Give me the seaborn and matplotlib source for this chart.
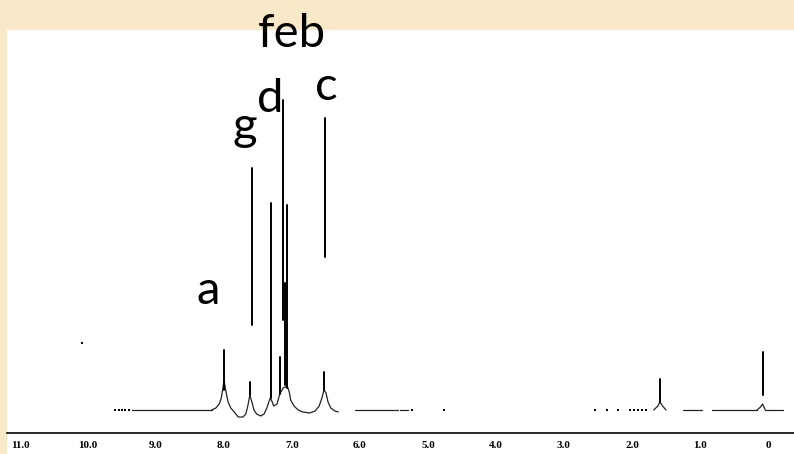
import numpy as np
import pandas as pd
import matplotlib
matplotlib.use('Agg')
import matplotlib.pyplot as plt
import seaborn as sns

# ---- data (ppm, intensity in arbitrary units) ----
# aromatic hump trace around the peaks
trace_ppm = [8.18, 8.12, 8.07, 8.04, 8.02, 8.00, 7.97, 7.94, 7.90, 7.85, 7.79,
             7.72, 7.68, 7.65, 7.62, 7.59, 7.56, 7.52, 7.46, 7.41, 7.37, 7.32,
             7.29, 7.27, 7.22, 7.18, 7.13, 7.07, 7.04, 7.02, 6.97, 6.91, 6.84,
             6.74, 6.66, 6.60, 6.56, 6.53, 6.50, 6.47, 6.43, 6.37, 6.32]
trace_int = [0, 2, 6, 12, 20, 30, 18, 8, 2, -2, -7,
             -7, -4, 4, 15, 8, 0, -4, -6, -4, 2, 12,
             8, 4, 6, 16, 22, 24, 18, 10, 4, 0, -2,
             -3, -1, 4, 12, 20, 17, 8, 2, -1, -2]

# tall narrow lines: position, bottom, top
stick_ppm = [8.00, 7.62, 7.59, 7.31, 7.18, 7.13, 7.10, 7.07, 6.51, 6.53, 1.59, 0.08]
stick_low = [20, 15, 85, 12, 16, 90, 25, 22, 153, 20, 8, 15]
stick_top = [60, 28, 242, 207, 53, 310, 127, 205, 292, 38, 31, 58]

# flat baseline pieces: start, end
base_start = [9.35, 6.07, 5.41, 1.25, 0.82, 0.04]
base_end = [8.18, 5.44, 5.29, 0.97, 0.16, -0.22]

# small humps away from the aromatic region
hump1_ppm = [1.68, 1.62, 1.59, 1.55, 1.50]
hump1_int = [0, 4, 8, 4, 0]
hump2_ppm = [0.16, 0.11, 0.08, 0.06, 0.04]
hump2_int = [0, 3, 6, 3, 0]

# isolated dots of the scanned trace
dot_ppm = [10.09, 9.60, 9.55, 9.50, 9.45, 9.40, 5.24, 4.77, 2.54, 2.37, 2.21,
           2.03, 1.97, 1.91, 1.85, 1.79]
dot_int = [67, 0, 0, 0, 0, 0, 0, 0, 0, 0, 0, 0, 0, 0, 0, 0]

tick_vals = [11, 10, 9, 8, 7, 6, 5, 4, 3, 2, 1, 0]
tick_labels = ['11.0', '10.0', '9.0', '8.0', '7.0', '6.0', '5.0', '4.0',
               '3.0', '2.0', '1.0', '0']

peak_labels = ['a', 'g', 'd', 'feb', 'c']
label_ppm = [8.40, 7.87, 7.51, 7.50, 6.66]
label_int = [106, 270, 298, 363, 310]

# ---- tables of line pieces ----
rows = []
for x, y in zip(trace_ppm, trace_int):
    rows.append(('trace', x, y))
for k in range(len(base_start)):
    rows.append((f'b{k}', base_start[k], 0))
    rows.append((f'b{k}', base_end[k], 0))
for x, y in zip(hump1_ppm, hump1_int):
    rows.append(('h1', x, y))
for x, y in zip(hump2_ppm, hump2_int):
    rows.append(('h2', x, y))
lines = pd.DataFrame(rows, columns=['piece', 'ppm', 'inten'])

srows = []
for k in range(len(stick_ppm)):
    srows.append((f's{k}', stick_ppm[k], stick_low[k]))
    srows.append((f's{k}', stick_ppm[k], stick_top[k]))
sticks = pd.DataFrame(srows, columns=['piece', 'ppm', 'inten'])

dots = pd.DataFrame({'ppm': dot_ppm, 'inten': dot_int})

sns.set_style('white')
plt.rcParams['font.family'] = ['Lato', 'DejaVu Sans']

fig = plt.figure(figsize=(7.94, 4.54), dpi=100, facecolor='#FAE9C8')
ax = fig.add_axes([7 / 794, 0, 1 - 7 / 794, 424 / 454])
ax.set_facecolor('white')

sns.lineplot(data=lines, x='ppm', y='inten', units='piece', estimator=None,
             sort=False, color='#222222', linewidth=0.9, ax=ax)
sns.lineplot(data=sticks, x='ppm', y='inten', units='piece', estimator=None,
             sort=False, color='black', linewidth=1.4, ax=ax)
sns.scatterplot(data=dots, x='ppm', y='inten', color='black', s=3,
                marker='s', linewidth=0, ax=ax)

ax.set_xlim((768 - 7) / 68, (768 - 794) / 68)
ax.set_ylim(-44, 380)

for sp in ['top', 'left', 'right']:
    ax.spines[sp].set_visible(False)
ax.spines['bottom'].set_position(('data', -23))
ax.spines['bottom'].set_color('black')
ax.spines['bottom'].set_linewidth(1.2)

ax.set_xticks(tick_vals)
ax.set_xticklabels(tick_labels, family='Liberation Serif', fontweight='bold',
                   fontsize=8)
ax.set_xticks(np.arange(0, 11.01, 0.5), minor=True)
ax.tick_params(axis='x', which='major', direction='out', length=4, width=1,
               pad=1.5, colors='black')
ax.tick_params(axis='x', which='minor', direction='out', length=2, width=0.8)
ax.set_yticks([])
ax.set_xlabel('')
ax.set_ylabel('')

for t, x, y in zip(peak_labels, label_ppm, label_int):
    ax.text(x, y, t, fontsize=34, ha='left', va='baseline', color='black',
            clip_on=False)

fig.savefig('out.png', dpi=100, facecolor=fig.get_facecolor())
